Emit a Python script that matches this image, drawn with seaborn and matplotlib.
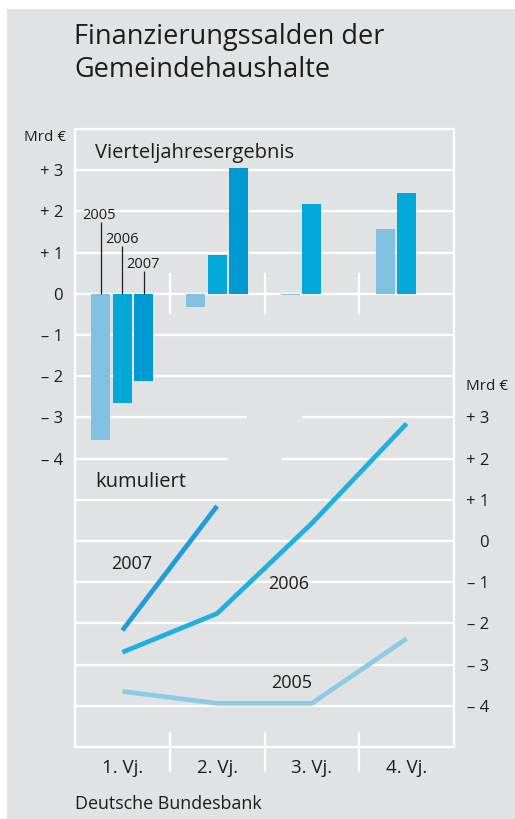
import numpy as np
import pandas as pd
import matplotlib
matplotlib.use("Agg")
import matplotlib.pyplot as plt
import seaborn as sns
from matplotlib.patches import Rectangle

# ---------------- data ----------------
quarters = ["1. Vj.", "2. Vj.", "3. Vj.", "4. Vj."]
years = ["2005", "2006", "2007"]
quarterly_2005 = [-3.56, -0.31, -0.03, 1.58]
quarterly_2006 = [-2.64, 0.93, 2.18, 2.44]
quarterly_2007 = [-2.11, 3.05, np.nan, np.nan]
cumulative_2005 = [-3.65, -3.94, -3.94, -2.37]
cumulative_2006 = [-2.70, -1.76, 0.43, 2.85]
cumulative_2007 = [-2.17, 0.85, np.nan, np.nan]
tick_values = [-4, -3, -2, -1, 0, 1, 2, 3]
tick_labels = ["– 4", "– 3", "– 2", "– 1", "0", "+ 1", "+ 2", "+ 3"]

bar_colors = {"2005": "#7fc1df", "2006": "#00a9d8", "2007": "#009ad3"}
line_colors = {"2005": "#8dcbe5", "2006": "#1fb1de", "2007": "#1e9dd6"}
BG = "#e1e2e4"
TXT = "#1d1d1b"

plt.rcParams["font.family"] = ["Open Sans", "DejaVu Sans"]

q_df = pd.DataFrame({
    "quarter": quarters * 3,
    "year": sum([[y] * 4 for y in years], []),
    "value": quarterly_2005 + quarterly_2006 + quarterly_2007,
}).dropna()
c_df = pd.DataFrame({
    "pos": list(range(4)) * 3,
    "year": sum([[y] * 4 for y in years], []),
    "value": cumulative_2005 + cumulative_2006 + cumulative_2007,
}).dropna()

W, H = 515, 819
fig = plt.figure(figsize=(W / 100, H / 100), dpi=100, facecolor="white")
def fx(px): return px / W
def fy(py): return 1 - py / H

fig.patches.append(Rectangle((fx(7), 0), 1 - fx(7), fy(9), transform=fig.transFigure,
                             facecolor=BG, edgecolor="none", zorder=-10))

L, R, T, B = 75, 454, 129, 747
ax = fig.add_axes([fx(L), fy(B), (R - L) / W, (B - T) / H])
ax.set_facecolor("none")

sns.barplot(data=q_df, x="quarter", y="value", hue="year", order=quarters, hue_order=years,
            palette=bar_colors, width=0.68, gap=0.12, saturation=1, errorbar=None,
            edgecolor="none", linewidth=0, legend=False, ax=ax, zorder=3)
ax.set_xlim(-0.5, 3.5)
ax.set_ylim(-11, 4)
ax.set_xlabel("")
ax.set_ylabel("")

ax2 = ax.twinx()
ax2.set_ylim(-5, 10)
sns.lineplot(data=c_df, x="pos", y="value", hue="year", hue_order=years, palette=line_colors,
             linewidth=3.4, legend=False, ax=ax2, solid_capstyle="butt", zorder=3)
ax2.set_xlim(-0.5, 3.5)
ax2.set_ylabel("")
ax2.set_xlabel("")

def dx(px):
    return (px - L) / ((R - L) / 4) - 0.5

gw = 1.6
# grid: top panel
for v in [3, 2, 1, 0, -1, -2]:
    ax.hlines(v, -0.5, 3.5, colors="white", lw=gw, zorder=1)
ax.hlines(-3, -0.5, dx(247), colors="white", lw=gw, zorder=1)
ax.hlines(-4, -0.5, dx(228), colors="white", lw=gw, zorder=1)
# grid: lower panel
ax2.hlines(3, dx(302), 3.5, colors="white", lw=gw, zorder=1)
ax2.hlines(2, dx(282), 3.5, colors="white", lw=gw, zorder=1)
for v in [1, 0, -1, -2, -3, -4]:
    ax2.hlines(v, -0.5, 3.5, colors="white", lw=gw, zorder=1)

# quarter separators
for xs in [0.5, 1.5, 2.5]:
    ax.vlines(xs, -0.5, 0.5, colors="white", lw=gw, zorder=1)
    ax.vlines(xs, -11 + 15 / 41.2, -11 - 25 / 41.2, colors="white", lw=gw, clip_on=False, zorder=1)

for s in ax.spines.values():
    s.set_color("white")
    s.set_linewidth(gw)
for s in ax2.spines.values():
    s.set_visible(False)

ax.set_yticks(tick_values)
ax.set_yticklabels(tick_labels)
ax.tick_params(axis="y", length=0, pad=8.6, labelsize=12, labelcolor=TXT)
ax2.set_yticks(tick_values)
ax2.set_yticklabels(tick_labels)
ax2.tick_params(axis="y", length=0, pad=25.2, labelsize=12, labelcolor=TXT)
for lab in ax2.get_yticklabels():
    lab.set_horizontalalignment("right")
ax.set_xticks(range(4))
ax.set_xticklabels(quarters)
ax.tick_params(axis="x", length=0, pad=8.5, labelsize=13.5, labelcolor=TXT)

# texts
fig.text(fx(74), fy(44), "Finanzierungssalden der", fontsize=19.5, color=TXT, va="baseline")
fig.text(fx(74), fy(77), "Gemeindehaushalte", fontsize=19.5, color=TXT, va="baseline")
fig.text(fx(66), fy(141), "Mrd €", fontsize=11, color=TXT, ha="right", va="baseline")
fig.text(fx(466), fy(390), "Mrd €", fontsize=11, color=TXT, ha="left", va="baseline")
fig.text(fx(95), fy(158), "Vierteljahresergebnis", fontsize=14.5, color=TXT, va="baseline")
fig.text(fx(95), fy(487), "kumuliert", fontsize=14.5, color=TXT, va="baseline")
fig.text(fx(75), fy(809), "Deutsche Bundesbank", fontsize=12.9, color=TXT, va="baseline")

# year labels top with leader lines
offsets = [-0.227, 0.0, 0.227]
top_lab = [(82.7, 219.3, 222.7), (105.7, 243.3, 246.7), (126.7, 268.3, 271.7)]
for yr, off, (lx, ly, ltop) in zip(years, offsets, top_lab):
    fig.text(fx(lx), fy(ly), yr, fontsize=10.5, color=TXT, va="baseline")
    ax.vlines(off, 0, (294 - ltop) / 41.2, colors="#222222", lw=0.9, zorder=4)

# year labels lower
fig.text(fx(111), fy(569), "2007", fontsize=13, color=TXT, va="baseline")
fig.text(fx(268), fy(589), "2006", fontsize=13, color=TXT, va="baseline")
fig.text(fx(271), fy(688), "2005", fontsize=13, color=TXT, va="baseline")

fig.savefig("out.png", dpi=100, facecolor="white")
